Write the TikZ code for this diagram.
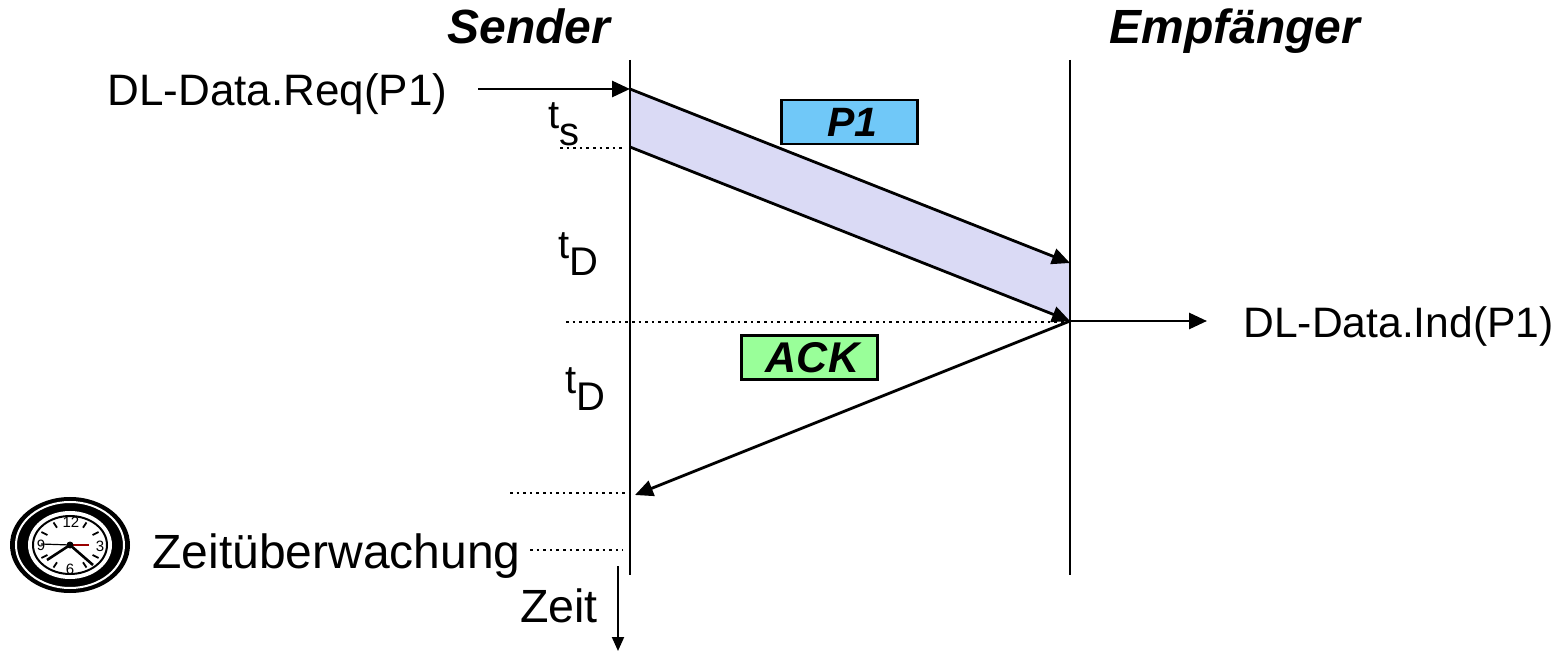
\documentclass[tikz,border=0pt]{standalone}
\usepackage{xcolor}
\usepackage{fontspec}
\setmainfont{Liberation Sans}
\usetikzlibrary{arrows.meta}
\definecolor{bandfill}{HTML}{DADAF5}
\definecolor{ponefill}{HTML}{70C8F8}
\definecolor{ackfill}{HTML}{99FF99}
\tikzset{
  label/.style={inner sep=0pt, font=\fontsize{#1}{24}\selectfont},
  label/.default=20,
  head/.style={inner sep=0pt, anchor=base, font=\fontsize{24}{28}\selectfont\bfseries\itshape},
  packet/.style={draw=black, line width=1.2pt, minimum width=68pt, minimum height=22pt, inner sep=0pt, font=\fontsize{#1}{24}\selectfont\bfseries\itshape},
  msg/.style={line width=1.4pt, -{Triangle[length=9pt,width=8pt]}},
  timeline/.style={line width=1.4pt},
  guide/.style={line width=1.3pt, dotted},
  dial/.style={inner sep=0pt, font=\fontsize{7.5}{8}\selectfont\rmfamily}
}
\newcommand{\tsub}[1]{t\raisebox{-0.42em}{#1}}
\begin{document}
\begin{tikzpicture}[x=0.5pt, y=-0.5pt]
\useasboundingbox (0,0) rectangle (1560,652);

\coordinate (senderTop) at (630,60);
\coordinate (senderEnd) at (630,575);
\coordinate (recvTop) at (1070,60);
\coordinate (recvEnd) at (1070,575);
\coordinate (sendA) at (630,89);
\coordinate (sendB) at (630,147);
\coordinate (recvA) at (1070,263);
\coordinate (recvB) at (1070,321);
\coordinate (ackEnd) at (635,495);
\coordinate (reqStart) at (478,89);
\coordinate (indEnd) at (1207,321);
\coordinate (timeStart) at (618,566);
\coordinate (timeEnd) at (618,651);

\fill[bandfill] (sendA) -- (recvA) -- (recvB) -- (sendB) -- cycle;

\node (sender) [head] at (529,44) {Sender};
\node (empf) [head] at (1235,44) {Empfänger};
\node (req) [label=22, anchor=base west] at (107,106) {DL-Data.Req(P1)};
\node (ind) [label=21.3, anchor=base west] at (1243,338) {DL-Data.Ind(P1)};
\node (ts) [label] at (564,124) {\tsub{s}};
\node (tdA) [label] at (578,254) {\tsub{D}};
\node (tdB) [label] at (585,389) {\tsub{D}};
\node (watch) [label=24, anchor=base west] at (152,568) {Zeitüberwachung};
\node (zeit) [label=23.3, anchor=base] at (559,622) {Zeit};
\node (pone) [packet=20.5, fill=ponefill] at (849.5,122) {\hspace*{3pt}P1};
\node (ack) [packet=21.5, fill=ackfill] at (809.5,357.5) {\hspace*{3pt}ACK};

\draw[timeline] (senderTop) -- (senderEnd);
\draw[timeline] (recvTop) -- (recvEnd);
\draw[msg] (reqStart) -- (sendA);
\draw[msg] (sendA) -- (recvA);
\draw[msg] (sendB) -- (recvB);
\draw[msg] (recvB) -- (indEnd);
\draw[msg] (recvB) -- (ackEnd);
\draw[line width=1pt, -{Triangle[length=7pt,width=6pt]}] (timeStart) -- (timeEnd);

\draw[guide] (560,148) -- (625,148);
\draw[guide] (566,322) -- (1068,322);
\draw[guide] (510,493) -- (630,493);
\draw[guide] (530,550) -- (623,550);

% clock
\fill[black] (70,545) ellipse [x radius=60, y radius=48];
\draw[white, line width=1pt] (70,545) ellipse [x radius=54, y radius=43];
\fill[white] (70,545) ellipse [x radius=42, y radius=34];
\draw[black, line width=1pt, fill=white] (70,545) ellipse [x radius=37, y radius=29];
\foreach \a in {30,60,120,150,210,240,300,330}
  \draw[line width=0.9pt] ({70+26*cos(\a)},{545+20*sin(\a)}) -- ({70+33*cos(\a)},{545+26*sin(\a)});
\node (twelve) [dial] at (71,522) {12};
\node (three) [dial] at (100,546) {3};
\node (six) [dial] at (70,569) {6};
\node (nine) [dial] at (41,545) {9};
\draw[line width=0.6pt] (41,544) -- (70,545);
\draw[line width=1.2pt, red!60!black] (70,545) -- (89,545);
\draw[line width=1.3pt] (70,545) -- (47,560);
\draw[line width=1.3pt] (70,545) -- (93,565);
\fill (70,545) circle [radius=3.5];
\end{tikzpicture}
\end{document}
